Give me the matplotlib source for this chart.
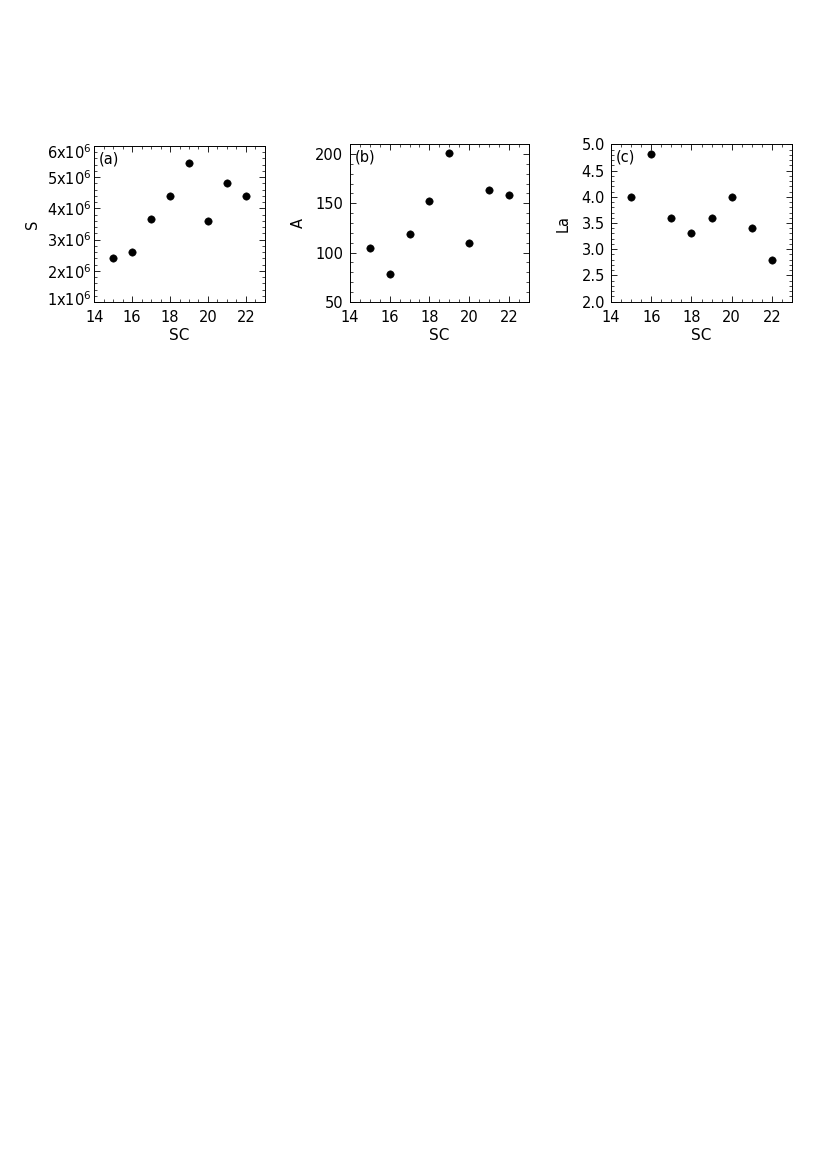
import matplotlib
matplotlib.use("Agg")
import matplotlib.pyplot as plt
import matplotlib.transforms as mtransforms
from matplotlib.ticker import MultipleLocator, FixedLocator

plt.rcParams['font.family'] = ['DejaVu Sans']
plt.rcParams['mathtext.fontset'] = 'dejavusans'

# Data
sc = [15, 16, 17, 18, 19, 20, 21, 22]
S = [2.41e6, 2.60e6, 3.65e6, 4.39e6, 5.46e6, 3.61e6, 4.81e6, 4.39e6]
A = [105, 78, 119, 152, 201, 110, 164, 158]
La = [4.0, 4.82, 3.6, 3.3, 3.6, 4.0, 3.4, 2.8]

panel_labels = ['(a)', '(b)', '(c)']
y_labels = ['S', 'A', 'La']
x_label = 'SC'
x_ticks = [14, 16, 18, 20, 22]
S_ticks = [1e6, 2e6, 3e6, 4e6, 5e6, 6e6]
S_tick_labels = [r'1x10$^{6}$', r'2x10$^{6}$', r'3x10$^{6}$', r'4x10$^{6}$', r'5x10$^{6}$', r'6x10$^{6}$']
A_ticks = [50, 100, 150, 200]
La_ticks = [2.0, 2.5, 3.0, 3.5, 4.0, 4.5, 5.0]

W, H = 823, 1163
fig = plt.figure(figsize=(W / 100, H / 100), dpi=100)

def rect(l, r, t, b):
    return [l / W, 1 - b / H, (r - l) / W, (b - t) / H]

axes = [
    fig.add_axes(rect(94.3, 264.7, 146.0, 302.0)),
    fig.add_axes(rect(350.0, 528.7, 144.3, 301.7)),
    fig.add_axes(rect(611.0, 792.0, 144.3, 301.7)),
]

series = [S, A, La]
ylims = [(1.0e6, 6.0e6), (50, 210), (2.0, 5.0)]
yminor = [0.2e6, 10, 0.1]
ylab_x = [-0.36, -0.291, -0.265]
ypads = [2.0, 4.8, 4.3]
fs = 10.5

for i, ax in enumerate(axes):
    ax.plot(sc, series[i], 'o', color='black', markersize=5.3, markeredgewidth=0.4,
            linestyle='none')
    ax.set_xlim(14, 23)
    ax.set_ylim(*ylims[i])
    ax.xaxis.set_major_locator(FixedLocator(x_ticks))
    ax.xaxis.set_minor_locator(MultipleLocator(0.5))
    ax.yaxis.set_minor_locator(MultipleLocator(yminor[i]))
    ax.tick_params(which='both', direction='in', top=True, right=True, colors='black',
                   labelsize=fs)
    ax.tick_params(which='major', length=4, width=0.6)
    ax.tick_params(which='minor', length=2, width=0.5)
    ax.tick_params(axis='x', which='major', pad=6.1)
    ax.tick_params(axis='y', which='major', pad=ypads[i])
    for s in ax.spines.values():
        s.set_linewidth(0.7)
    ax.set_xlabel(x_label, fontsize=11, va='center')
    ax.xaxis.set_label_coords(0.5, -0.212)
    ax.set_ylabel(y_labels[i], fontsize=fs, va='center')
    ax.yaxis.set_label_coords(ylab_x[i], 0.5)
    ax.text(0.028, 0.965, panel_labels[i], transform=ax.transAxes, ha='left', va='top',
            fontsize=fs)

axes[0].yaxis.set_major_locator(FixedLocator(S_ticks))
axes[0].set_yticklabels(S_tick_labels)
axes[1].yaxis.set_major_locator(FixedLocator(A_ticks))
axes[2].yaxis.set_major_locator(FixedLocator(La_ticks))
axes[2].set_yticklabels(['%.1f' % v for v in La_ticks])

# shift the end labels of panel (a) inward, as in the reference
ylabs = axes[0].get_yticklabels()
up = mtransforms.ScaledTranslation(0, 3.5 / 100, fig.dpi_scale_trans)
down = mtransforms.ScaledTranslation(0, -5.0 / 100, fig.dpi_scale_trans)
ylabs[0].set_transform(ylabs[0].get_transform() + up)
ylabs[-1].set_transform(ylabs[-1].get_transform() + down)

fig.savefig('out.png', dpi=100)
